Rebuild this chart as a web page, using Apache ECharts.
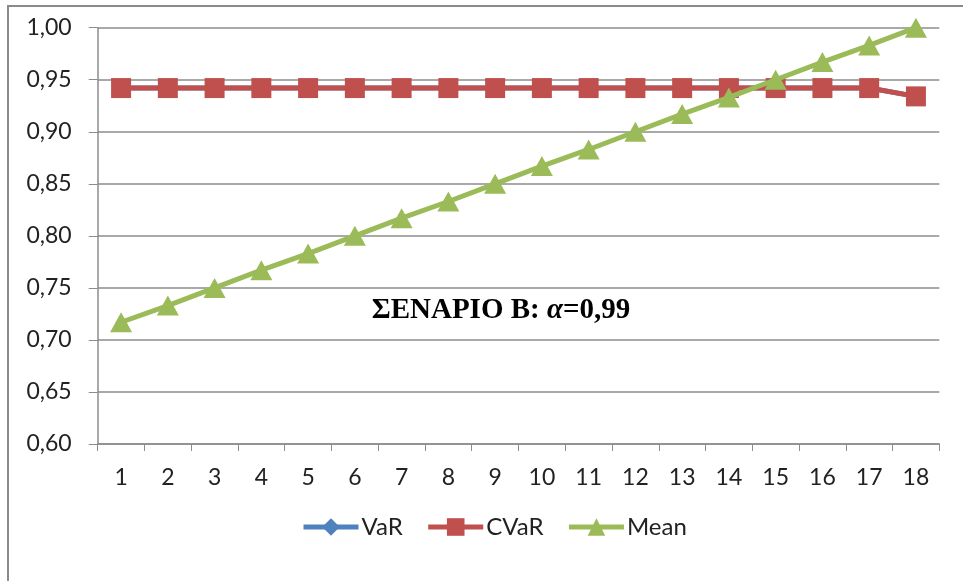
<!DOCTYPE html>
<html><head><meta charset="utf-8">
<script src="https://cdn.jsdelivr.net/npm/echarts@6/dist/echarts.min.js"></script>
<style>html,body{margin:0;padding:0;background:#fff}#c{width:963px;height:581px}</style>
</head><body><div id="c"></div>
<script>
const categories = ['1','2','3','4','5','6','7','8','9','10','11','12','13','14','15','16','17','18'];
const varValues = [0.942,0.942,0.942,0.942,0.942,0.942,0.942,0.942,0.942,0.942,0.942,0.942,0.942,0.942,0.942,0.942,0.942,0.934];
const cvarValues = [0.942,0.942,0.942,0.942,0.942,0.942,0.942,0.942,0.942,0.942,0.942,0.942,0.942,0.942,0.942,0.942,0.942,0.934];
const meanValues = [0.717,0.733,0.750,0.767,0.783,0.800,0.817,0.833,0.850,0.867,0.883,0.900,0.917,0.933,0.950,0.967,0.983,1.000];
const seriesNames = ['VaR','CVaR','Mean'];
const annotationParts = ['ΣΕΝΑΡΙΟ Β: ', 'α', '=0,99'];

const chart = echarts.init(document.getElementById('c'), null, {renderer:'canvas'});
const font = 'Lato, "Open Sans", sans-serif';
const serif = '"Liberation Serif", "DejaVu Serif", serif';
chart.setOption({
  animation:false,
  backgroundColor:'#fff',
  graphic:[{type:'rect',shape:{x:8,y:6,width:1000,height:700},style:{fill:'none',stroke:'#8a8a8a',lineWidth:2},silent:true},
    {type:'text',style:{text:'{b|'+annotationParts[0]+'}{i|'+annotationParts[1]+'}{b|'+annotationParts[2]+'}',
      rich:{b:{fontFamily:serif,fontWeight:'bold',fontSize:29,fill:'#000'},i:{fontFamily:serif,fontWeight:'bold',fontStyle:'italic',fontSize:29,fill:'#000'}},
      textAlign:'center',textVerticalAlign:'middle'},position:[501,311]}],
  grid:{left:97.7,right:23.7,top:27.7,bottom:137,containLabel:false},
  legend:{data:seriesNames,top:510,left:296,itemWidth:55,itemHeight:22,itemGap:23,
    lineStyle:{width:5},
    textStyle:{fontFamily:font,fontSize:24,color:'#222',padding:[0,0,0,-2]}},
  xAxis:{type:'category',data:categories,boundaryGap:true,
    axisLine:{lineStyle:{color:'#8c8c8c',width:1.5}},
    axisTick:{show:true,length:7,inside:false,lineStyle:{color:'#8c8c8c'}},
    axisLabel:{fontFamily:font,fontSize:23,color:'#222',margin:22}},
  yAxis:{type:'value',min:0.6,max:1.0,interval:0.05,
    axisLine:{show:true,lineStyle:{color:'#8c8c8c',width:1.5}},
    axisTick:{show:true,length:9,lineStyle:{color:'#8c8c8c'}},
    splitLine:{lineStyle:{color:'#8c8c8c',width:1.5}},
    axisLabel:{fontFamily:font,fontSize:23,color:'#222',margin:26,formatter:v=>v.toFixed(2).replace('.',',')}},
  series:[
    {name:'VaR',type:'line',data:varValues,symbol:'diamond',symbolSize:18,itemStyle:{color:'#4F81BD'},lineStyle:{width:5,color:'#4F81BD'},z:1},
    {name:'CVaR',type:'line',data:cvarValues,symbol:'rect',symbolSize:20,itemStyle:{color:'#C0504D'},lineStyle:{width:5,color:'#C0504D'},z:2},
    {name:'Mean',type:'line',data:meanValues,symbol:'triangle',symbolSize:[22,20],itemStyle:{color:'#9BBB59'},lineStyle:{width:5,color:'#9BBB59'},z:3}
  ]
});
</script></body></html>
